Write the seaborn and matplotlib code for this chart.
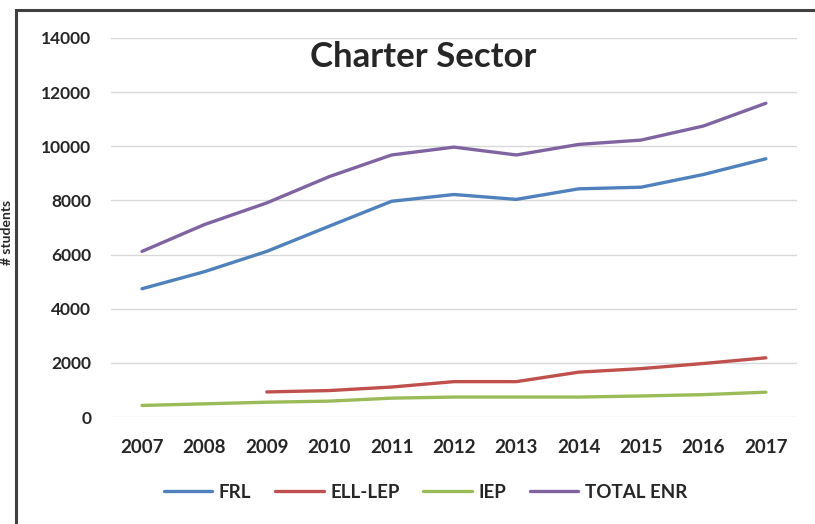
import numpy as np
import pandas as pd
import matplotlib
matplotlib.use("Agg")
import matplotlib.pyplot as plt
import seaborn as sns
from matplotlib.patches import Rectangle

# values
years = [2007, 2008, 2009, 2010, 2011, 2012, 2013, 2014, 2015, 2016, 2017]
frl = [4740, 5370, 6120, 7050, 7970, 8220, 8040, 8430, 8490, 8960, 9540]
ell_lep = [np.nan, np.nan, 930, 980, 1110, 1310, 1310, 1660, 1790, 1980, 2190]
iep = [430, 490, 550, 590, 700, 740, 740, 740, 780, 830, 920]
total_enr = [6120, 7110, 7910, 8880, 9680, 9970, 9680, 10070, 10230, 10750, 11590]

series = ["FRL", "ELL-LEP", "IEP", "TOTAL ENR"]
colors = ["#4F81BD", "#C0504D", "#9BBB59", "#8064A2"]

df = pd.DataFrame({"year": years, "FRL": frl, "ELL-LEP": ell_lep,
                   "IEP": iep, "TOTAL ENR": total_enr})
long_df = df.melt(id_vars="year", var_name="series", value_name="students").dropna()

sns.set_style("white")
plt.rcParams["font.family"] = ["Lato", "DejaVu Sans"]

fig = plt.figure(figsize=(8.15, 5.24), dpi=100)
ax = fig.add_axes([0.136, 0.204, 0.842, 0.7235])

sns.lineplot(data=long_df, x="year", y="students", hue="series",
             hue_order=series, palette=colors, linewidth=2.4, ax=ax)

ax.set_xlim(2006.5, 2017.5)
ax.set_ylim(0, 14000)
ax.set_yticks(range(0, 14001, 2000))
ax.set_xticks(years)
ax.tick_params(length=0, pad=14)
ax.tick_params(axis="y", labelsize=12.5)
ax.tick_params(axis="x", labelsize=13.5, pad=16)
for lab in ax.get_xticklabels() + ax.get_yticklabels():
    lab.set_fontweight("bold")
ax.yaxis.grid(True, color="#d9d9d9", linewidth=1)
ax.xaxis.grid(False)
for sp in ax.spines.values():
    sp.set_visible(False)
ax.set_xlabel("")
ax.set_ylabel("")

handles, labels = ax.get_legend_handles_labels()
leg = ax.legend(handles, labels, loc="center", bbox_to_anchor=(0.522, 0.061),
                bbox_transform=fig.transFigure, ncol=4, frameon=False,
                handlelength=2.6, columnspacing=1.25, handletextpad=0.35,
                prop={"weight": "bold", "size": 13.5})

fig.text(0.519, 0.891, "Charter Sector", ha="center", va="center",
         fontsize=25, fontweight="bold")
fig.text(0.001, 0.557, "# students", rotation=90, ha="left", va="center",
         fontsize=10, fontweight="bold")

# outer chart frame (left and top edges visible in the reference)
fig.patches.append(Rectangle((16 / 815, -0.2), 1.2, 1.2 - 10 / 524,
                             transform=fig.transFigure, fill=False,
                             edgecolor="#404040", linewidth=2.2))

fig.savefig("out.png", dpi=100)
